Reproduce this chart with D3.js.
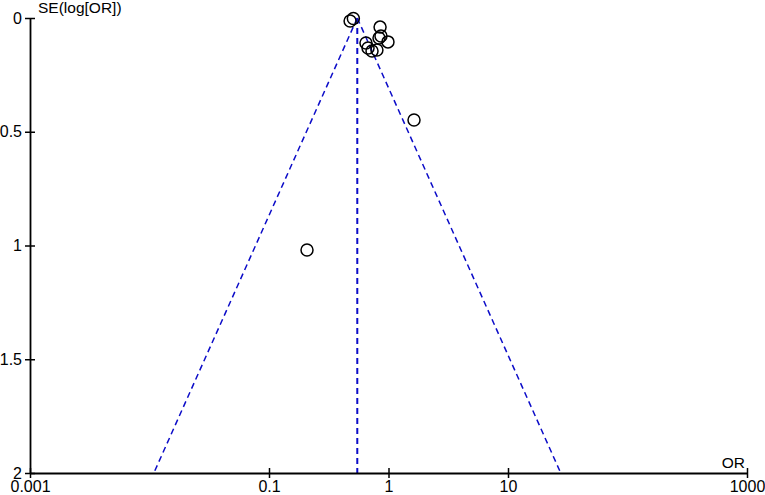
<!DOCTYPE html>
<html>
<head>
<meta charset="utf-8">
<script src="https://cdn.jsdelivr.net/npm/d3@7"></script>
<style>
  html, body { margin: 0; padding: 0; background: #fff; }
  svg { display: block; font-family: "Liberation Sans", Arial, sans-serif; }
</style>
</head>
<body>
<svg id="chart" width="765" height="495"></svg>
<script>
// Study data
const studyOR = [0.508, 0.477, 0.85, 0.865, 0.833, 0.99, 0.648, 0.674, 0.728, 0.80, 1.635, 0.208];
const studySE = [0.002, 0.013, 0.040, 0.079, 0.088, 0.105, 0.110, 0.132, 0.145, 0.141, 0.448, 1.02];
const pooledOR = 0.548;
const xTicks = [0.001, 0.1, 1, 10, 1000];
const xTickLabels = ["0.001", "0.1", "1", "10", "1000"];
const yTicks = [0, 0.5, 1, 1.5, 2];
const yTickLabels = ["0", "0.5", "1", "1.5", "2"];
const seMax = 2;

const svg = d3.select("#chart");
const x = d3.scaleLog().domain([0.001, 1000]).range([30, 747]);
const y = d3.scaleLinear().domain([0, seMax]).range([18, 473]);

const blue = "#0c0cc8";

// Funnel (pseudo 95% CI) lines
const lnP = Math.log(pooledOR);
const funnel = [
  [[pooledOR, 0], [Math.exp(lnP - 1.96 * seMax), seMax]],
  [[pooledOR, 0], [Math.exp(lnP + 1.96 * seMax), seMax]],
  [[pooledOR, 0], [pooledOR, seMax]]
];
const line = d3.line().x(d => x(d[0])).y(d => y(d[1]));
svg.append("g").selectAll("path").data(funnel).join("path")
  .attr("d", line)
  .attr("fill", "none")
  .attr("stroke", blue)
  .attr("stroke-width", (d, i) => i === 2 ? 2 : 1.5)
  .attr("stroke-dasharray", "6,4");

// Axes
const xAxis = d3.axisBottom(x).tickValues(xTicks)
  .tickFormat((d, i) => xTickLabels[i]).tickSize(5).tickSizeOuter(0).tickPadding(3);
const gx = svg.append("g").attr("transform", `translate(0,${y(seMax)})`).call(xAxis);
gx.select(".domain").attr("stroke", "#000").attr("stroke-width", 1.8);
gx.selectAll(".tick line").attr("y1", -5).attr("y2", 5).attr("stroke", "#000").attr("stroke-width", 1.5);
gx.selectAll(".tick text").attr("font-size", 16).attr("fill", "#000");

const yAxis = d3.axisLeft(y).tickValues(yTicks)
  .tickFormat((d, i) => yTickLabels[i]).tickSize(5).tickSizeOuter(0).tickPadding(3);
const gy = svg.append("g").attr("transform", `translate(${x(0.001)},0)`).call(yAxis);
gy.select(".domain").attr("stroke", "#000").attr("stroke-width", 1.8);
gy.selectAll(".tick line").attr("x1", 5).attr("x2", -5).attr("stroke", "#000").attr("stroke-width", 1.5);
gy.selectAll(".tick text").attr("font-size", 16).attr("fill", "#000");
gx.attr("font-family", null); gy.attr("font-family", null);

// Axis titles
svg.append("text").attr("x", 38).attr("y", 13).attr("font-size", 15.5).text("SE(log[OR])");
svg.append("text").attr("x", 745).attr("y", 468).attr("text-anchor", "end").attr("font-size", 15.5).text("OR");

// Study points
svg.append("g").selectAll("circle").data(studyOR.map((o, i) => [o, studySE[i]])).join("circle")
  .attr("cx", d => x(d[0])).attr("cy", d => y(d[1])).attr("r", 6)
  .attr("fill", "none").attr("stroke", "#000").attr("stroke-width", 1.5);
</script>
</body>
</html>
